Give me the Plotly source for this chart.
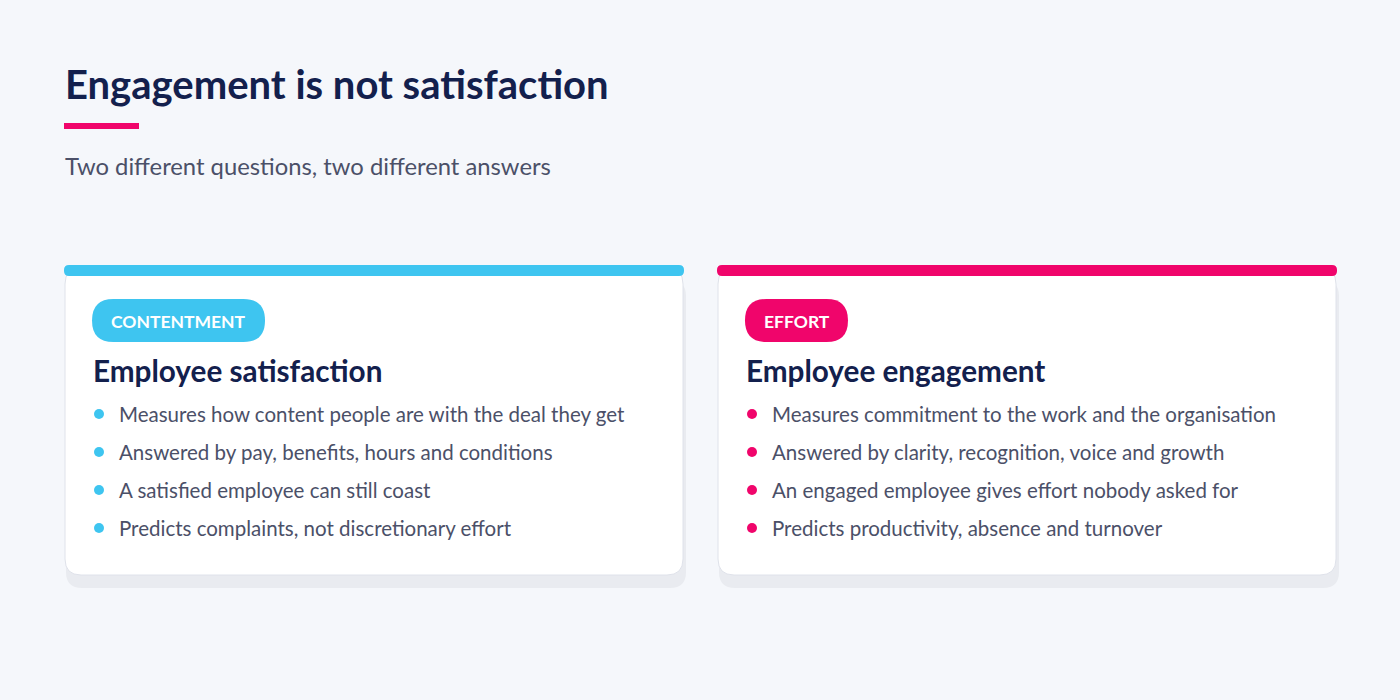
import plotly.graph_objects as go

# ---- content
title = "Engagement is not satisfaction"
subtitle = "Two different questions, two different answers"
tags = ["CONTENTMENT", "EFFORT"]
headings = ["Employee satisfaction", "Employee engagement"]
bullets = [
    ["Measures how content people are with the deal they get",
     "Answered by pay, benefits, hours and conditions",
     "A satisfied employee can still coast",
     "Predicts complaints, not discretionary effort"],
    ["Measures commitment to the work and the organisation",
     "Answered by clarity, recognition, voice and growth",
     "An engaged employee gives effort nobody asked for",
     "Predicts productivity, absence and turnover"],
]
accents = ["#3ec5f0", "#f0056b"]

NAVY = "#13204d"
GREY = "#4b5068"
FONT = "Lato"


def rrect(x0, y0, x1, y1, r):
    return (f"M{x0+r},{y0} L{x1-r},{y0} Q{x1},{y0} {x1},{y0+r} L{x1},{y1-r} "
            f"Q{x1},{y1} {x1-r},{y1} L{x0+r},{y1} Q{x0},{y1} {x0},{y1-r} "
            f"L{x0},{y0+r} Q{x0},{y0} {x0+r},{y0} Z")


fig = go.Figure()
shapes, notes = [], []

shapes.append(dict(type="rect", x0=64, x1=139, y0=123, y1=129,
                   fillcolor=accents[1], line_width=0, layer="above"))
notes.append(dict(x=63, y=84, text=f"<b>{title}</b>", font=dict(size=40, color=NAVY)))
notes.append(dict(x=63, y=166, text=subtitle, font=dict(size=23.8, color=GREY)))

tag_w = [173, 103]
for i in range(2):
    x0 = 64 + i * 653
    x1 = x0 + 620
    # shadow, card, accent bar
    shapes.append(dict(type="path", path=rrect(x0 + 2, 280, x1 + 2, 588, 16),
                       fillcolor="#e9ebf0", line_width=0))
    shapes.append(dict(type="path", path=rrect(x0 + 1, 268, x1 - 1, 575, 16),
                       fillcolor="white", line=dict(color="#dfe2ea", width=1)))
    shapes.append(dict(type="path", path=rrect(x0, 265, x1, 276, 5),
                       fillcolor=accents[i], line_width=0))
    # pill
    shapes.append(dict(type="path", path=rrect(x0 + 28, 299, x0 + 28 + tag_w[i], 342, 21.5),
                       fillcolor=accents[i], line_width=0))
    notes.append(dict(x=x0 + 28 + tag_w[i] / 2, y=321, xanchor="center",
                      text=f"<b>{tags[i]}</b>", font=dict(size=17.5, color="white")))
    notes.append(dict(x=x0 + 27, y=370, text=f"<b>{headings[i]}</b>",
                      font=dict(size=29.7, color=NAVY)))
    for j, b in enumerate(bullets[i]):
        yy = 414 + 38 * j
        shapes.append(dict(type="circle", x0=x0 + 30, x1=x0 + 40, y0=yy - 5, y1=yy + 5,
                           fillcolor=accents[i], line_width=0))
        notes.append(dict(x=x0 + 53, y=yy, text=b, font=dict(size=20.5, color=GREY)))

for n in notes:
    n.setdefault("xanchor", "left")
    n.update(xref="x", yref="y", yanchor="middle", showarrow=False)
    n["font"]["family"] = FONT

fig.update_layout(
    width=1400, height=700, margin=dict(l=0, r=0, t=0, b=0),
    paper_bgcolor="#f5f7fb", plot_bgcolor="#f5f7fb",
    xaxis=dict(range=[0, 1400], visible=False, fixedrange=True),
    yaxis=dict(range=[700, 0], visible=False, fixedrange=True),
    shapes=shapes, annotations=notes, showlegend=False,
)
fig.write_html("out.html", config={"displayModeBar": False})

# drop the browser's default body margin so the figure sits at 0,0
with open("out.html", encoding="utf-8") as f:
    page = f.read()
page = page.replace("<head>", "<head><style>body{margin:0;background:#f5f7fb;}</style>", 1)
with open("out.html", "w", encoding="utf-8") as f:
    f.write(page)
